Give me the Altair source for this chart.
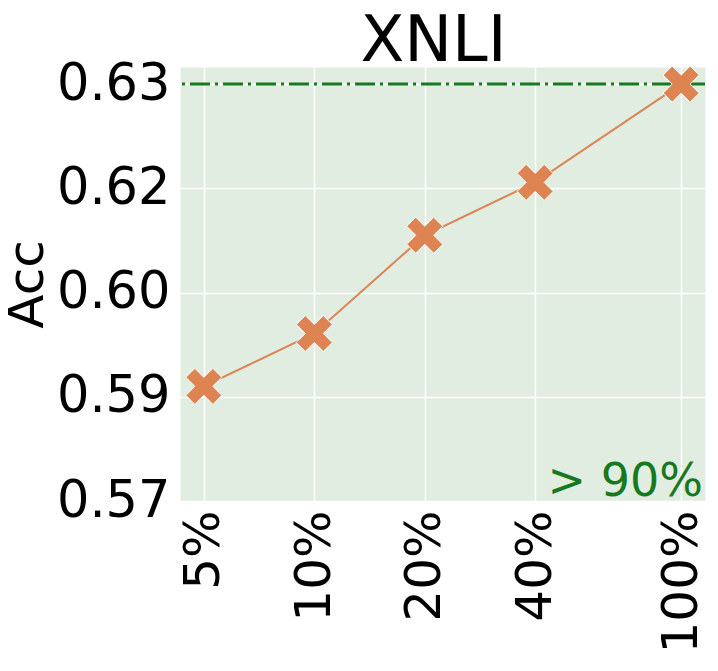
import altair as alt
import pandas as pd

# data
labels = ["5%", "10%", "20%", "40%", "100%"]
pct = [5, 10, 20, 40, 100]
acc = [0.5894, 0.5965, 0.6097, 0.6168, 0.6300]
y_ticks = [0.574, 0.588, 0.602, 0.616, 0.630]
ref_value = 0.630
note = "> 90%"
title_text = "XNLI"

df = pd.DataFrame({"pct": pct, "acc": acc, "label": labels})

FONT = "DejaVu Sans"
ORANGE = "#DD8452"
GREEN = "#17791f"
W, H = 525, 434

xs = alt.Scale(type="log", domain=[4.305, 116.15], nice=False)
ys = alt.Scale(domain=[0.574, 0.6323], nice=False, zero=False)

x_axis = alt.Axis(values=pct, labelExpr="datum.value + '%'", labelAngle=270,
                  labelAlign="right", labelBaseline="middle",
                  labelFontSize=50, labelFont=FONT, labelColor="black",
                  labelPadding=9, ticks=False, domain=False, labelFlush=False,
                  labelOverlap=False, gridColor="white", gridWidth=1.5,
                  gridOpacity=1, title=None)
y_axis = alt.Axis(values=y_ticks, format=".2f", labelFontSize=51,
                  labelFont=FONT, labelColor="black", labelPadding=10,
                  ticks=False, domain=False, labelFlush=False,
                  labelOverlap=False, gridColor="white", gridWidth=1.5,
                  gridOpacity=1, title="Acc", titleFont=FONT,
                  titleFontSize=50, titleFontWeight="normal",
                  titleColor="black", titleAngle=270, titleAlign="center",
                  titleBaseline="alphabetic", titleX=-138, titleY=H / 2)

base = alt.Chart(df)

line = base.mark_line(color=ORANGE, strokeWidth=2).encode(
    x=alt.X("pct:Q", scale=xs, axis=x_axis),
    y=alt.Y("acc:Q", scale=ys, axis=y_axis),
)

xshape = "M-0.5,-1 L0,-0.5 L0.5,-1 L1,-0.5 L0.5,0 L1,0.5 L0.5,1 L0,0.5 L-0.5,1 L-1,0.5 L-0.5,0 L-1,-0.5 Z"
points = base.mark_point(shape=xshape, filled=True, size=1300, color=ORANGE,
                         opacity=1, stroke="white", strokeWidth=1).encode(
    x=alt.X("pct:Q", scale=xs),
    y=alt.Y("acc:Q", scale=ys),
)

rule = alt.Chart(pd.DataFrame({"v": [ref_value]})).mark_rule(
    color=GREEN, strokeWidth=3, strokeDash=[20, 5, 3, 5]
).encode(y=alt.Y("v:Q", scale=ys))

txt = alt.Chart(pd.DataFrame({"t": [note]})).mark_text(
    align="right", baseline="alphabetic", fontSize=46, font=FONT,
    color=GREEN, dx=-2, dy=-5
).encode(x=alt.datum(116.15, scale=xs), y=alt.datum(0.574, scale=ys),
         text="t:N")

title = alt.Chart(pd.DataFrame({"t": [title_text]})).mark_text(
    align="center", baseline="alphabetic", fontSize=64, font=FONT,
    color="black"
).encode(x=alt.value(W / 2 - 9), y=alt.value(-6), text="t:N")

chart = alt.layer(rule, line, points, txt, title).properties(
    width=W, height=H,
    autosize=alt.AutoSizeParams(type="none"),
    padding={"left": 172, "top": 59, "right": 5, "bottom": 160},
).configure_view(fill="#E1EDE1", stroke="transparent")

chart.save("out.html", embed_options={"renderer": "svg", "actions": False})
